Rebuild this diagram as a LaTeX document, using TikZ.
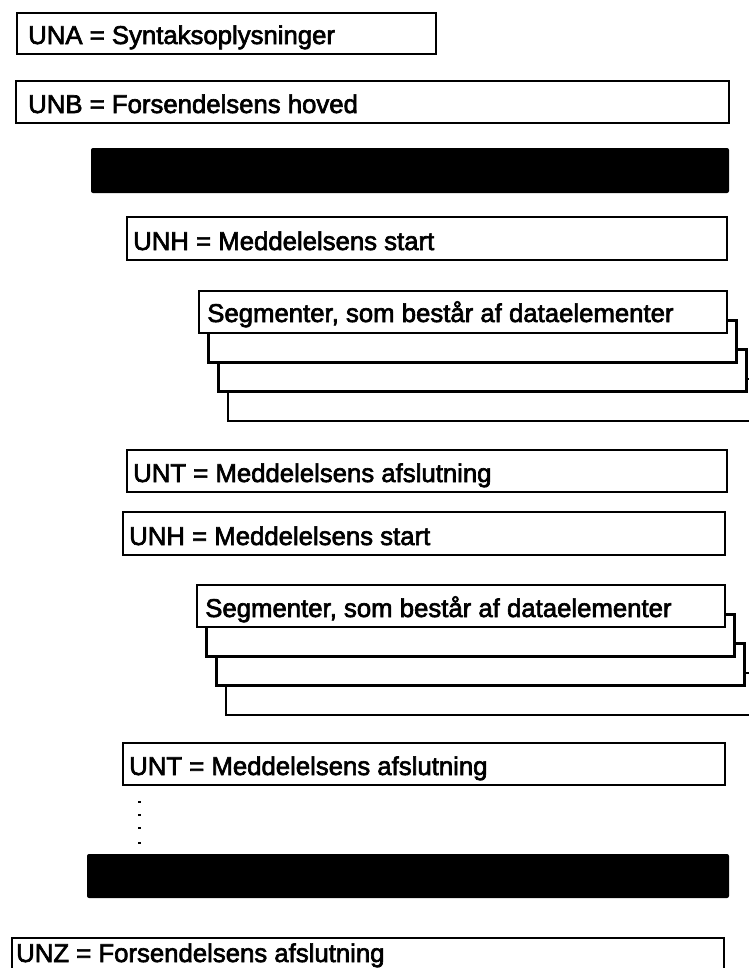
\documentclass[tikz,border=0pt]{standalone}
\usepackage{fontspec}
\setmainfont{Liberation Sans}
\newfontfamily\lblfont{Liberation Sans}[FakeBold=2.5]
\tikzset{
  box/.style={draw, line width=2pt, fill=white},
  bar/.style={fill=black, rounded corners=1.5pt},
  lbl/.style={anchor=base west, inner sep=0pt, font=\lblfont\fontsize{19.3}{22}\selectfont},
  dotmark/.style={fill=black},
}
\newcommand\segstack[2]{%
  \foreach \i in {3,2,1,0}
    \draw[box] ({#1+9.7*\i},{#2+29.3*\i}) rectangle ++(528,42);
}

\begin{document}
\begin{tikzpicture}[x=0.75pt, y=-0.75pt]
      \useasboundingbox (0,0) rectangle (749,968);
      \clip (0,0) rectangle (749,968);
      \draw[box] (17,13) rectangle (436,54);
      \node[lbl] (una) at (28,44) {UNA = Syntaksoplysninger};
      \draw[box] (16,81) rectangle (729,123);
      \node[lbl] (unb) at (28,113) {UNB = Forsendelsens hoved};
      \fill[bar] (91,148) rectangle (729,193);
      \draw[box] (127,217) rectangle (727,260);
      \node[lbl] (unh1) at (133,250) {UNH = Meddelelsens start};
      \segstack{199}{291}
      \node[lbl] (seg1) at (207,322) {Segmenter, som består af dataelementer};
      \draw[box] (127,450) rectangle (727,492);
      \node[lbl] (unt1) at (133,482) {UNT = Meddelelsens afslutning};
      \draw[box] (123,512) rectangle (725,555);
      \node[lbl] (unh2) at (129,545) {UNH = Meddelelsens start};
      \segstack{197}{585}
      \node[lbl] (seg2) at (205,617) {Segmenter, som består af dataelementer};
      \draw[box] (123,743) rectangle (725,785);
      \node[lbl] (unt2) at (129,775) {UNT = Meddelelsens afslutning};
      \foreach \y in {802,815,828,843}
        \fill[dotmark] (137.5,\y-1) rectangle ++(3,2);
      \fill[bar] (87,854) rectangle (729,898);
      \draw[box] (12,938) rectangle (724,990);
      \node[lbl] (unz) at (16,962) {UNZ = Forsendelsens afslutning};
\end{tikzpicture}
\end{document}
